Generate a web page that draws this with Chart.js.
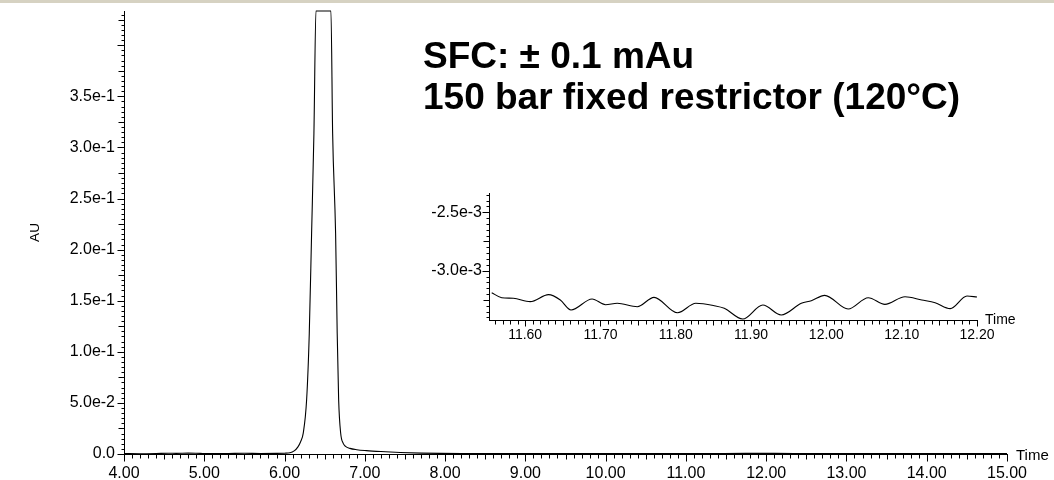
<!DOCTYPE html>
<html>
<head>
<meta charset="utf-8">
<title>SFC baseline noise</title>
<script src="https://cdn.jsdelivr.net/npm/chart.js@4/dist/chart.umd.min.js"></script>
<style>
  html, body { margin: 0; padding: 0; background: #fff; }
  body { position: relative; width: 1054px; height: 480px; overflow: hidden; font-family: "Liberation Sans", Arial, sans-serif; }
  #band { position: absolute; left: 0; top: 0; width: 1054px; height: 3px; background: #d6d2c2; }
  #main { position: absolute; left: 0; top: 0; }
  #inset { position: absolute; left: 380px; top: 180px; }
  .note { position: absolute; left: 423px; font-weight: bold; font-size: 37px; line-height: 41px; color: #000; white-space: nowrap; }
</style>
</head>
<body>
<div id="band"></div>
<canvas id="main" width="1054" height="480"></canvas>
<canvas id="inset" width="674" height="170"></canvas>
<div class="note" style="top:35px">SFC: ± 0.1 mAu</div>
<div class="note" style="top:76px">150 bar fixed restrictor (120°C)</div>
<script>
// Full chromatogram (time in min, absorbance in AU); the peak is clipped flat at the detector ceiling.
const mainTime = [4.00, 4.20, 4.40, 4.55, 4.65, 4.80, 4.95, 5.10, 5.30, 5.50, 5.70, 5.90, 6.00,
  6.067, 6.12, 6.167, 6.20, 6.233, 6.275, 6.308, 6.337, 6.366, 6.391, 6.578, 6.599, 6.636, 6.656,
  6.674, 6.699, 6.731, 6.76, 6.814, 6.90, 7.02, 7.20, 7.44, 7.70, 7.94, 8.30, 8.80, 9.30, 9.80,
  10.30, 10.80, 11.30, 11.75, 12.10, 12.60, 13.10, 13.60, 14.10, 14.60, 15.00];
const mainAU = [0.0004, 0.0003, 0.0005, 0.0008, 0.0006, 0.0009, 0.0006, 0.0004, 0.0005, 0.0007, 0.0005, 0.0006, 0.0008,
  0.0012, 0.003, 0.007, 0.012, 0.0205, 0.053, 0.118, 0.216, 0.314, 0.4335, 0.4335, 0.314, 0.216, 0.118,
  0.053, 0.0205, 0.0104, 0.0075, 0.0055, 0.0042, 0.0033, 0.0024, 0.0015, 0.0009, 0.0006, 0.0005, 0.0004, 0.0005, 0.0004,
  0.0005, 0.0004, 0.0005, 0.0006, 0.0006, 0.0004, 0.0005, 0.0004, 0.0005, 0.0004, 0.0004];
const mainTimeTicks = [4, 5, 6, 7, 8, 9, 10, 11, 12, 13, 14, 15];
const mainAUTicks = [0, 0.05, 0.10, 0.15, 0.20, 0.25, 0.30, 0.35];

// Zoomed baseline window used for the noise estimate.
const insetTime = [11.5556, 11.5689, 11.5844, 11.6067, 11.6311, 11.6467, 11.6609, 11.6889, 11.7067, 11.7223,
  11.7489, 11.7711, 11.8023, 11.8267, 11.8511, 11.8644, 11.8889, 11.9156, 11.94, 11.9667, 11.98, 11.9977,
  12.0289, 12.0556, 12.0777, 12.1044, 12.1267, 12.1444, 12.1644, 12.1867, 12.20];
const insetAU = [-3.188e-3, -3.231e-3, -3.236e-3, -3.265e-3, -3.205e-3, -3.251e-3, -3.336e-3, -3.242e-3, -3.291e-3, -3.279e-3,
  -3.308e-3, -3.228e-3, -3.360e-3, -3.279e-3, -3.300e-3, -3.322e-3, -3.414e-3, -3.294e-3, -3.379e-3, -3.279e-3, -3.257e-3, -3.211e-3,
  -3.328e-3, -3.231e-3, -3.288e-3, -3.223e-3, -3.251e-3, -3.274e-3, -3.325e-3, -3.217e-3, -3.225e-3];
const insetTimeTicks = [11.6, 11.7, 11.8, 11.9, 12.0, 12.1, 12.2];
const insetAUTicks = [-3.0e-3, -2.5e-3];

const INK = '#000';
const FONT_FAMILY = '"Liberation Sans", Arial, sans-serif';

/** Format an absorbance tick the way the instrument software does (3.5e-1, 0.0). */
function formatAU(value) {
  if (Math.abs(value) < 1e-12) return '0.0';
  return value.toExponential(1).replace('e+', 'e');
}

/** Stroke an axis line plus minor/medium/major tick marks along one scale. */
function strokeAxis(ctx, scale, spec, area) {
  const first = Math.ceil(scale.min / spec.step - 1e-6);
  const last = Math.floor(scale.max / spec.step + 1e-6);
  const horizontal = scale.isHorizontal();
  const ax = Math.round(area.left) + 0.5;
  const ay = Math.round(area.bottom) + 0.5;
  ctx.beginPath();
  if (horizontal) { ctx.moveTo(area.left, ay); ctx.lineTo(area.right + 1, ay); }
  else { ctx.moveTo(ax, area.bottom + 1); ctx.lineTo(ax, area.top); }
  for (let k = first; k <= last; k++) {
    const n = Math.abs(k);
    const len = n % spec.major === 0 ? spec.lengths[2] : n % spec.medium === 0 ? spec.lengths[1] : spec.lengths[0];
    const p = Math.round(scale.getPixelForValue(k * spec.step)) + 0.5;
    if (horizontal) { ctx.moveTo(p, ay); ctx.lineTo(p, ay + len); }
    else { ctx.moveTo(ax, p); ctx.lineTo(ax - len, p); }
  }
  ctx.stroke();
}

// Draws the axis lines, graded tick marks and the "Time" tag right of the x axis.
const axisTicksPlugin = {
  id: 'axisTicks',
  afterDatasetsDraw(chart, args, opts) {
    const { ctx, chartArea: area, scales } = chart;
    ctx.save();
    ctx.strokeStyle = INK;
    ctx.lineWidth = 1;
    strokeAxis(ctx, scales.x, opts.x, area);
    strokeAxis(ctx, scales.y, opts.y, area);
    ctx.fillStyle = INK;
    ctx.font = opts.timeFont;
    ctx.textAlign = 'left';
    ctx.textBaseline = 'middle';
    ctx.fillText('Time', area.right + opts.timeGap, area.bottom + opts.timeDy);
    ctx.restore();
  },
};

/** Build a line config for one trace; the layout numbers pin the plot box in place. */
function buildTraceConfig({ times, values, xTicks, yTicks, xRange, yRange, box, xFont, yFont, ticks, timeTag }) {
  return {
    type: 'line',
    data: {
      datasets: [{
        data: times.map((t, i) => ({ x: t, y: values[i] })),
        borderColor: INK,
        borderWidth: 1.1,
        pointRadius: 0,
        cubicInterpolationMode: 'monotone',
        clip: 3,
      }],
    },
    options: {
      responsive: false,
      animation: false,
      events: [],
      layout: { padding: { top: box.top, right: box.right, left: 0, bottom: 0 } },
      scales: {
        x: {
          type: 'linear',
          min: xRange[0],
          max: xRange[1],
          afterFit: scale => {
            scale.height = box.xHeight;
            scale.paddingLeft = 0;
            scale.paddingRight = 0;
          },
          afterBuildTicks: scale => { scale.ticks = xTicks.map(value => ({ value })); },
          grid: { display: false, drawTicks: false },
          border: { display: false },
          ticks: {
            autoSkip: false,
            maxRotation: 0,
            padding: box.xPad,
            color: INK,
            font: { family: FONT_FAMILY, size: xFont },
            callback: value => Number(value).toFixed(2),
          },
        },
        y: {
          type: 'linear',
          min: yRange[0],
          max: yRange[1],
          afterFit: scale => {
            scale.width = box.yWidth;
            scale.paddingTop = 0;
            scale.paddingBottom = 0;
          },
          afterBuildTicks: scale => { scale.ticks = yTicks.map(value => ({ value })); },
          grid: { display: false, drawTicks: false },
          border: { display: false },
          title: box.yTitle ? {
            display: true,
            text: box.yTitle,
            color: INK,
            font: { family: FONT_FAMILY, size: 13.5 },
            padding: { top: 27, bottom: 0 },
          } : { display: false },
          ticks: {
            autoSkip: false,
            padding: box.yPad,
            color: INK,
            font: { family: FONT_FAMILY, size: yFont },
            callback: value => formatAU(Number(value)),
          },
        },
      },
      plugins: {
        legend: { display: false },
        tooltip: { enabled: false },
        axisTicks: { ...ticks, ...timeTag },
      },
    },
    plugins: [axisTicksPlugin],
  };
}

new Chart(document.getElementById('main'), buildTraceConfig({
  times: mainTime,
  values: mainAU,
  xTicks: mainTimeTicks,
  yTicks: mainAUTicks,
  xRange: [4, 15],
  yRange: [0, 0.4335],
  box: { top: 11, right: 47, xHeight: 26, yWidth: 124, xPad: 10, yPad: 9, yTitle: 'AU' },
  xFont: 16,
  yFont: 16,
  ticks: {
    x: { step: 0.1, medium: 5, major: 10, lengths: [4, 5, 7] },
    y: { step: 0.005, medium: 5, major: 10, lengths: [3, 6, 7] },
  },
  timeTag: { timeFont: `15px ${FONT_FAMILY}`, timeGap: 9, timeDy: 2 },
}));

new Chart(document.getElementById('inset'), buildTraceConfig({
  times: insetTime,
  values: insetAU,
  xTicks: insetTimeTicks,
  yTicks: insetAUTicks,
  xRange: [11.552, 12.20],
  yRange: [-3.422e-3, -2.335e-3],
  box: { top: 13, right: 77, xHeight: 30, yWidth: 109, xPad: 7, yPad: 7 },
  xFont: 14,
  yFont: 16,
  ticks: {
    x: { step: 0.01, medium: 5, major: 10, lengths: [4, 5, 6] },
    y: { step: 0.05e-3, medium: 5, major: 10, lengths: [3, 6, 7] },
  },
  timeTag: { timeFont: `14px ${FONT_FAMILY}`, timeGap: 8, timeDy: 0 },
}));
</script>
</body>
</html>
